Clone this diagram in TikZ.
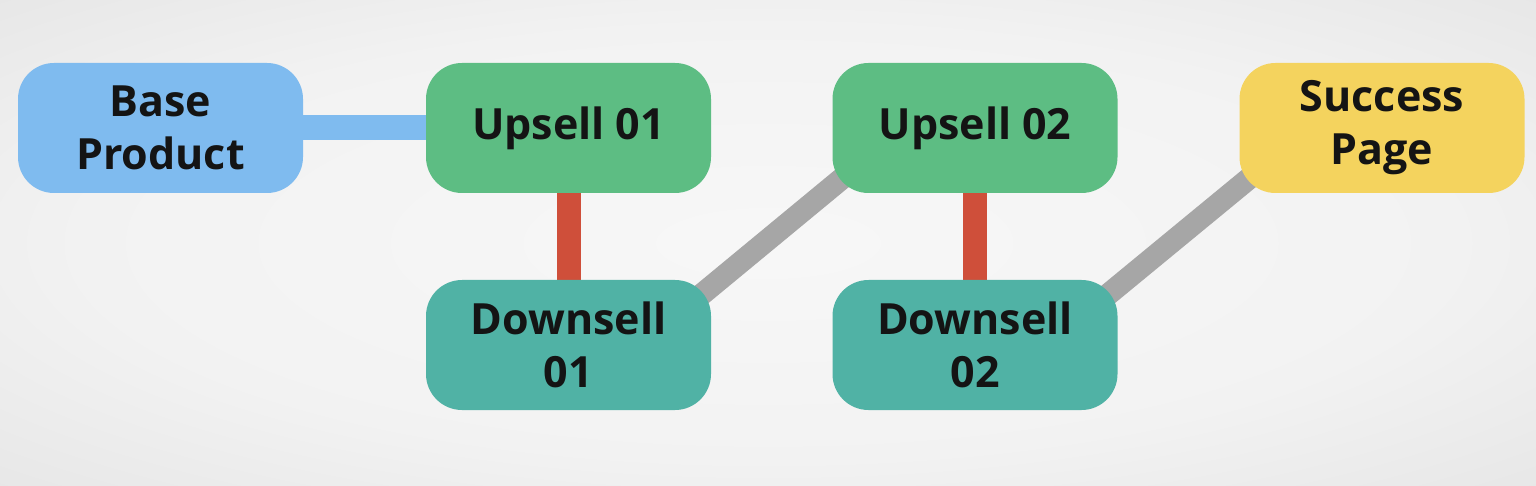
\documentclass[tikz,border=0pt]{standalone}
\usepackage{fontspec}
\setmainfont{Open Sans}[BoldFont={* Bold}]
\usetikzlibrary{calc}
\definecolor{cblue}{HTML}{7FBBEF}
\definecolor{cgreen}{HTML}{5DBD83}
\definecolor{cteal}{HTML}{50B2A5}
\definecolor{cyellow}{HTML}{F4D35E}
\definecolor{cred}{HTML}{CF4F3A}
\definecolor{cgray}{HTML}{A6A6A6}
\pgfdeclareradialshading{bgshade}{\pgfpoint{0bp}{0bp}}{color(0bp)=(white!97!black); color(22bp)=(white!95!black); color(50bp)=(white!86!black); color(72bp)=(white!82!black)}
\pgfdeclarelayer{backdrop}
\pgfdeclarelayer{lines}
\pgfsetlayers{backdrop,lines,main}
\tikzset{
  box/.style={rounded corners=36pt, minimum width=285pt, minimum height=130pt, align=center, inner sep=0pt,
    font=\fontsize{43}{53}\selectfont\bfseries, text=black!92},
  link/.style={line width=#1},
}
\begin{document}
\begin{tikzpicture}[x=1pt,y=-1pt]
\begin{pgfonlayer}{backdrop}
\shade[shading=bgshade] (0,0) rectangle (1536,486);
\end{pgfonlayer}
\useasboundingbox (0,0) rectangle (1536,486);
\node[box, fill=cblue]   (b)  at (160.5,128) {Base\\Product};
\node[box, fill=cgreen]  (u1) at (568.5,128) {Upsell 01};
\node[box, fill=cteal]   (d1) at (568.5,345) {Downsell\\01};
\node[box, fill=cgreen]  (u2) at (975,128)   {Upsell 02};
\node[box, fill=cteal]   (d2) at (975,345)   {Downsell\\02};
\node[box, fill=cyellow] (s)  at (1382,128)  {Success\\Page};
\begin{pgfonlayer}{lines}
\draw[link=25pt, cblue] ([xshift=-10pt]b.east) -- ([xshift=10pt]u1.west);
\draw[link=24pt, cred] ([yshift=10pt]u1.south) -- ([yshift=-10pt]d1.north);
\draw[link=24pt, cred] ([yshift=10pt]u2.south) -- ([yshift=-10pt]d2.north);
\draw[link=22pt, cgray] ($(d1.north east)+(-10,15)$) -- ($(u2.south west)+(10,-15)$);
\draw[link=22pt, cgray] ($(d2.north east)+(-10,15)$) -- ($(s.south west)+(10,-15)$);
\end{pgfonlayer}
\end{tikzpicture}
\end{document}
